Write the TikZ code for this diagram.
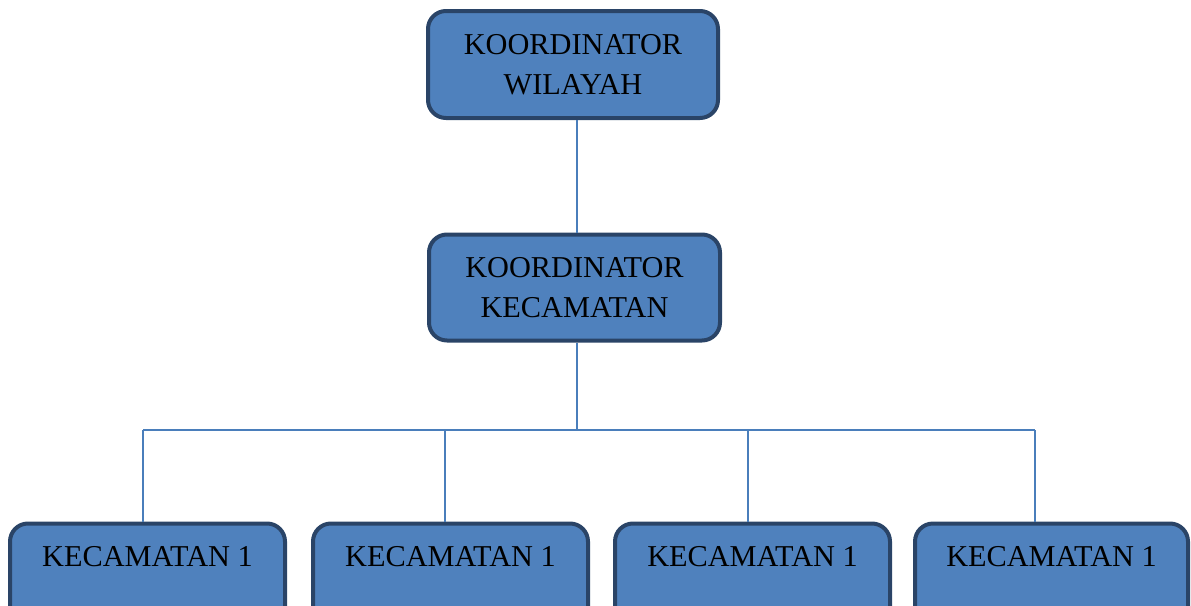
\documentclass[tikz,border=0pt]{standalone}
\usepackage{fontspec}
\setmainfont{Liberation Serif}
\definecolor{boxfill}{HTML}{4F81BD}
\definecolor{boxline}{HTML}{2A4467}
\definecolor{connline}{HTML}{4A7EBB}
\tikzset{
  orgbox/.style={draw=boxline, fill=boxfill, line width=4pt, rounded corners=18pt,
    align=center, text=black, font=\fontsize{30.3}{40}\selectfont, inner sep=0pt},
  topbox/.style={orgbox, minimum width=290pt, minimum height=107pt},
  leafbox/.style={orgbox, anchor=north, minimum width=275pt, text height=19.9pt,
    text depth=70pt, inner ysep=23.2pt},
  conn/.style={draw=connline, line width=1.5pt}
}
\begin{document}
\begin{tikzpicture}[x=1pt,y=-1pt]
\useasboundingbox (0,0) rectangle (1191,605);
\clip (0,0) rectangle (1191,605);
\coordinate (spine) at (577,0);
\coordinate (bus) at (577,430);
\coordinate (d1) at (143,430);
\coordinate (d2) at (445,430);
\coordinate (d3) at (748,430);
\coordinate (d4) at (1035,430);

\node[topbox] (kw) at (573,64.5) {KOORDINATOR\\WILAYAH};
\node[topbox, minimum width=291pt, minimum height=106pt] (kk) at (574.5,287.5) {KOORDINATOR\\KECAMATAN};
\node[leafbox] (k1) at (147.5,521.5) {KECAMATAN 1};
\node[leafbox] (k2) at (450.5,521.5) {KECAMATAN 1};
\node[leafbox] (k3) at (752.5,521.5) {KECAMATAN 1};
\node[leafbox, minimum width=273pt] (k4) at (1051.5,521.5) {KECAMATAN 1};

\draw[conn] (kw.south -| spine) -- (kk.north -| spine);
\draw[conn] (kk.south -| spine) -- (bus);
\draw[conn] (d1) -- (d4);
\draw[conn] (d1) -- (d1 |- k1.north);
\draw[conn] (d2) -- (d2 |- k2.north);
\draw[conn] (d3) -- (d3 |- k3.north);
\draw[conn] (d4) -- (d4 |- k4.north);
\end{tikzpicture}
\end{document}
